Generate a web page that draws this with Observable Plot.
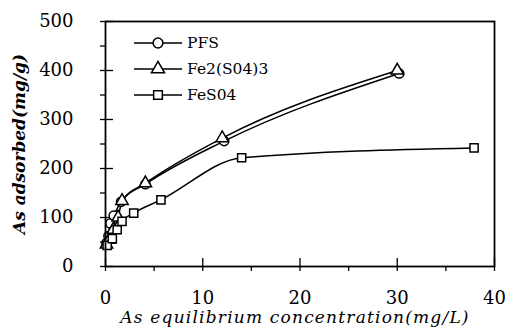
<!DOCTYPE html>
<html><head><meta charset="utf-8">
<script src="https://cdn.jsdelivr.net/npm/d3@7"></script>
<script src="https://cdn.jsdelivr.net/npm/@observablehq/plot@0.6"></script>
<style>body{margin:0;background:#fff}</style>
</head><body><div id="chart"></div>
<script>
const seriesNames = ["PFS", "Fe2(S04)3", "FeS04"];
const symbols = ["circle", "triangle", "square"];
const pfsX = [0.1, 0.3, 0.5, 0.85, 1.6, 4.1, 12.2, 30.2];
const pfsY = [48, 62, 88, 104, 132, 168, 256, 394];
const fe2X = [0.1, 0.4, 0.8, 1.3, 1.7, 4.1, 12.0, 30.0];
const fe2Y = [45, 55, 75, 100, 134, 170, 262, 400];
const fesX = [0.17, 0.7, 1.2, 1.7, 2.9, 5.7, 14.0, 37.9];
const fesY = [43, 57, 75, 92, 109, 136, 222, 242];
const xTicks = [0, 10, 20, 30, 40];
const xMinor = [5, 15, 25, 35];
const yTicks = [0, 100, 200, 300, 400, 500];
const yMinor = [50, 150, 250, 350, 450];
const xTitle = "As equilibrium concentration(mg/L)";
const yTitle = "As adsorbed(mg/g)";

const series = [[pfsX, pfsY], [fe2X, fe2Y], [fesX, fesY]];
const data = series.flatMap(([xs, ys], i) => xs.map((x, j) => ({x, y: ys[j], s: seriesNames[i], sym: symbols[i]})));

const W = 507, H = 327, mL = 105, mR = 13, mT = 21, mB = 61;
const fw = W - mL - mR, fh = H - mT - mB;
const font = "DejaVu Serif";

const chart = Plot.plot({
  width: W, height: H,
  marginLeft: mL, marginRight: mR, marginTop: mT, marginBottom: mB,
  style: {fontFamily: font, background: "#fff", color: "#000"},
  x: {domain: [0, 40]},
  y: {domain: [0, 500]},
  marks: [
    Plot.axisX({ticks: xTicks.concat(xMinor), tickSize: 5, text: null, label: null, strokeWidth: 1.3}),
    Plot.axisY({ticks: yTicks.concat(yMinor), tickSize: 5, text: null, label: null, strokeWidth: 1.3}),
    Plot.tickX(xTicks, {x: d => d, insetTop: fh - 8, stroke: "#000", strokeWidth: 1.3}),
    Plot.tickY(yTicks, {y: d => d, insetRight: fw - 8, stroke: "#000", strokeWidth: 1.3}),
    Plot.axisX({ticks: xTicks, tickSize: 0, tickPadding: 25, fontSize: 18, label: null, fill: "#000"}),
    Plot.axisY({ticks: yTicks, tickSize: 0, tickPadding: 32, fontSize: 18, label: null, fill: "#000"}),
    Plot.line(data, {x: "x", y: "y", z: "s", curve: "monotone-x", stroke: "#000", strokeWidth: 1.5}),
    Plot.dot(data, {x: "x", y: "y", symbol: "sym", r: 4.6, stroke: "#000", fill: "#fff", strokeWidth: 1.5}),
    Plot.frame({stroke: "#000", strokeWidth: 1.8}),
    Plot.text([xTitle], {frameAnchor: "bottom", lineAnchor: "middle", textAnchor: "middle", dy: 51, dx: -5, fontSize: 17, fontStyle: "italic", fill: "#000", className: "xtitle"}),
    Plot.text([yTitle], {frameAnchor: "left", textAnchor: "middle", lineAnchor: "middle", dx: -86, rotate: -90, fontSize: 17, fontStyle: "italic", fontWeight: "bold", fill: "#000"})
  ]
});
document.getElementById("chart").appendChild(chart);
d3.select(chart).selectAll(".xtitle text").attr("letter-spacing", "1.2px");

// legend
const svg = d3.select(chart);
const lg = svg.append("g").attr("font-family", font).attr("font-size", 15.5).attr("text-anchor", "start").attr("fill", "#000");
const symGen = [d3.symbolCircle, d3.symbolTriangle, d3.symbolSquare];
seriesNames.forEach((name, i) => {
  const yy = 43 + i * 26;
  lg.append("line").attr("x1", 134).attr("x2", 182).attr("y1", yy).attr("y2", yy).attr("stroke", "#000").attr("stroke-width", 1.5);
  lg.append("path").attr("d", d3.symbol(symGen[i], 75)()).attr("transform", `translate(158,${yy})`).attr("fill", "#fff").attr("stroke", "#000").attr("stroke-width", 1.5);
  lg.append("text").attr("x", 187).attr("y", yy).attr("dy", "0.35em").text(name);
});
</script></body></html>
